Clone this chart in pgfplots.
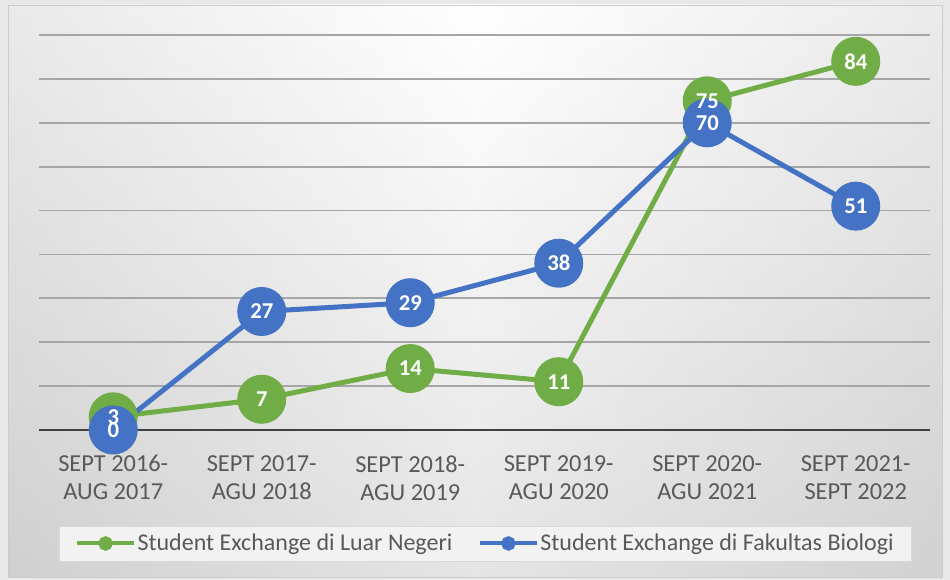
\documentclass[border=0pt]{standalone}
\usepackage{fontspec}
\setmainfont{Carlito}
\usepackage{pgfplots}
\pgfplotsset{compat=1.18}
\definecolor{cgreen}{HTML}{70AD47}
\definecolor{cblue}{HTML}{4472C4}
\definecolor{tickgray}{HTML}{595959}
\definecolor{gridgray}{HTML}{A6A6A6}
\definecolor{zerogray}{HTML}{404040}
\begin{document}
\begin{tikzpicture}
\fill[gray!18] (0,0) rectangle (712.5pt,435pt);
\shade[left color=gray!30, right color=gray!28, middle color=white] (6pt,2.25pt) rectangle (706.5pt,431.25pt);
\shade[top color=white, bottom color=gray!45, opacity=0.45] (6pt,2.25pt) rectangle (706.5pt,431.25pt);
\draw[gray!40] (6pt,2.25pt) rectangle (706.5pt,431.25pt);
\begin{axis}[
  at={(29.25pt,112.5pt)}, anchor=south west,
  width=668.25pt, height=296.25pt, scale only axis,
  xmin=-0.5, xmax=5.5, ymin=0, ymax=90,
  clip=false,
  xtick={0,...,5},
  xticklabels={{SEPT 2016-\\AUG 2017},{SEPT 2017-\\AGU 2018},{SEPT 2018-\\AGU 2019},{SEPT 2019-\\AGU 2020},{SEPT 2020-\\AGU 2021},{SEPT 2021-\\SEPT 2022}},
  xticklabel shift=15.5pt,
  ytick={10,20,...,90}, yticklabels={},
  ymajorgrids, major grid style={gridgray, line width=1.4pt},
  extra y ticks={0}, extra y tick labels={},
  extra y tick style={grid=major, major grid style={zerogray, line width=2.2pt}},
  axis line style={draw=none}, major tick length=0pt,
  xticklabel style={align=center, text=tickgray, font=\fontsize{18.3pt}{21pt}\selectfont},
  /pgf/number format/assume math mode=true,
  legend style={at={(0.5006,-0.2873)}, anchor=center, legend columns=2,
    fill=gray!10, draw=gray!30, text=tickgray,
    font=\fontsize{18pt}{21pt}\selectfont,
    inner xsep=12pt, inner ysep=4pt,
    nodes={inner xsep=1pt},
    /tikz/every even column/.append style={column sep=18pt}},
  legend image code/.code={\draw[line width=3pt] (0pt,0pt) -- (43pt,0pt); \fill (21.5pt,0pt) circle (3.5pt);},
]
\addplot[cgreen, line width=3.75pt, mark=*, mark size=16.5pt, mark options={solid}] coordinates {(0,3)(1,7)(2,14)(3,11)(4,75)(5,84)};
\addlegendentry{Student Exchange di Luar Negeri}
\addplot[cblue, line width=3.75pt, mark=*, mark size=16.5pt, mark options={solid}] coordinates {(0,0)(1,27)(2,29)(3,38)(4,70)(5,51)};
\addlegendentry{Student Exchange di Fakultas Biologi}
\addplot[draw=none, mark=none, forget plot, nodes near coords,
  every node near coord/.style={anchor=center, text=white, font=\bfseries\fontsize{17pt}{17pt}\selectfont}]
  coordinates {(0,3)(1,7)(2,14)(3,11)(4,75)(5,84)};
\addplot[draw=none, mark=none, forget plot, nodes near coords,
  every node near coord/.style={anchor=center, text=white, font=\bfseries\fontsize{17pt}{17pt}\selectfont}]
  coordinates {(0,0)(1,27)(2,29)(3,38)(4,70)(5,51)};
\end{axis}
\end{tikzpicture}
\end{document}
